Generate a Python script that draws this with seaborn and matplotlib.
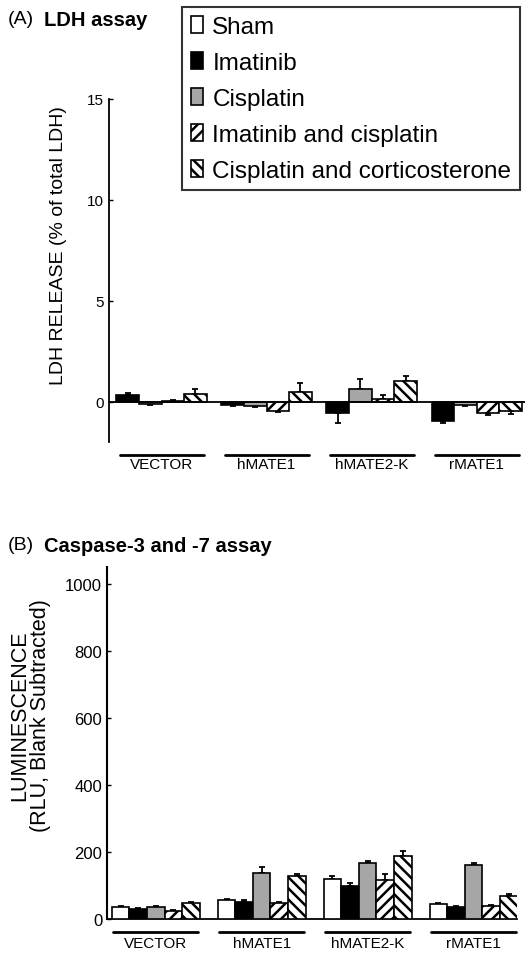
import numpy as np
import pandas as pd
import matplotlib
matplotlib.use("Agg")
import matplotlib.pyplot as plt
import seaborn as sns
from matplotlib.patches import Patch
from matplotlib.transforms import blended_transform_factory

# ---------------- data ----------------
groups = ["VECTOR", "hMATE1", "hMATE2-K", "rMATE1"]
treatments = ["Sham", "Imatinib", "Cisplatin",
              "Imatinib and cisplatin", "Cisplatin and corticosterone"]

# (A) LDH release (% of total LDH), relative to sham
ldh_imatinib = [0.35, -0.18, -0.58, -0.95]
ldh_imatinib_err = [0.08, 0.05, 0.50, 0.12]
ldh_cisplatin = [-0.12, -0.20, 0.65, -0.15]
ldh_cisplatin_err = [0.06, 0.08, 0.45, 0.05]
ldh_imat_cis = [0.03, -0.45, 0.15, -0.55]
ldh_imat_cis_err = [0.07, 0.08, 0.20, 0.10]
ldh_cis_cort = [0.38, 0.47, 1.00, -0.45]
ldh_cis_cort_err = [0.25, 0.45, 0.25, 0.15]

# (B) Caspase-3/-7 luminescence (RLU, blank subtracted)
casp_sham = [35, 57, 120, 45]
casp_sham_err = [3, 4, 7, 3]
casp_imatinib = [30, 52, 98, 35]
casp_imatinib_err = [3, 4, 8, 3]
casp_cisplatin = [35, 137, 168, 162]
casp_cisplatin_err = [3, 18, 5, 4]
casp_imat_cis = [25, 47, 117, 38]
casp_imat_cis_err = [3, 5, 18, 4]
casp_cis_cort = [48, 127, 187, 70]
casp_cis_cort_err = [4, 6, 17, 5]

colors = {"Sham": "white", "Imatinib": "black", "Cisplatin": "#a6a6a6",
          "Imatinib and cisplatin": "white",
          "Cisplatin and corticosterone": "white"}
hatches = {"Sham": "", "Imatinib": "", "Cisplatin": "",
           "Imatinib and cisplatin": "///",
           "Cisplatin and corticosterone": "\\\\\\"}

ldh_vals = {"Imatinib": (ldh_imatinib, ldh_imatinib_err),
            "Cisplatin": (ldh_cisplatin, ldh_cisplatin_err),
            "Imatinib and cisplatin": (ldh_imat_cis, ldh_imat_cis_err),
            "Cisplatin and corticosterone": (ldh_cis_cort, ldh_cis_cort_err)}
casp_vals = {"Sham": (casp_sham, casp_sham_err),
             "Imatinib": (casp_imatinib, casp_imatinib_err),
             "Cisplatin": (casp_cisplatin, casp_cisplatin_err),
             "Imatinib and cisplatin": (casp_imat_cis, casp_imat_cis_err),
             "Cisplatin and corticosterone": (casp_cis_cort, casp_cis_cort_err)}


def long_df(d):
    rows = []
    for t, (v, e) in d.items():
        for g, vi, ei in zip(groups, v, e):
            rows.append({"group": g, "treatment": t, "value": vi, "err": ei})
    return pd.DataFrame(rows)


df_a = long_df(ldh_vals)
df_b = long_df(casp_vals)

# ---------------- style ----------------
sns.set_style("ticks")
plt.rcParams["font.family"] = ["Liberation Sans", "DejaVu Sans"]
plt.rcParams["hatch.linewidth"] = 1.8
plt.rcParams["hatch.color"] = "black"
for k in ["text.color", "axes.labelcolor", "xtick.color", "ytick.color",
          "axes.edgecolor"]:
    plt.rcParams[k] = "black"

fig = plt.figure(figsize=(5.32, 9.54), dpi=100)
W, H = 532.0, 954.0
axA = fig.add_axes([109 / W, 1 - 443 / H, (525 - 109) / W, (443 - 100) / H])
axB = fig.add_axes([107 / W, 1 - 920 / H, (517 - 107) / W, (920 - 568) / H])


def draw(ax, df, order, width):
    sns.barplot(data=df, x="group", y="value", hue="treatment",
                order=groups, hue_order=order,
                palette={t: colors[t] for t in order},
                edgecolor="black", linewidth=1.2, width=width,
                errorbar=None, dodge=True, legend=False, ax=ax, zorder=3)
    for t, cont in zip(order, ax.containers):
        sub = df[df.treatment == t].set_index("group").loc[groups]
        xs, ys, lo, hi = [], [], [], []
        for patch, v, e in zip(cont.patches, sub["value"], sub["err"]):
            patch.set_hatch(hatches[t])
            xs.append(patch.get_x() + patch.get_width() / 2)
            ys.append(v)
            lo.append(e if v < 0 else 0)
            hi.append(e if v >= 0 else 0)
        ax.errorbar(xs, ys, yerr=[lo, hi], fmt="none", ecolor="black",
                    elinewidth=1.3, capsize=2, capthick=1.3, zorder=2)


# ---- panel A ----
draw(axA, df_a, treatments[1:], 0.86)
axA.set_xlim(-0.5, 3.46)
axA.set_ylim(-2, 15)
axA.axhline(0, color="black", lw=1.3, zorder=4)
axA.set_yticks([0, 5, 10, 15])
axA.tick_params(axis="y", direction="in", length=3, labelsize=11, width=1)
axA.set_xticks(range(len(groups)))
axA.set_xticklabels(groups, fontsize=11)
axA.tick_params(axis="x", length=0, pad=11)
for s in ["top", "right", "bottom"]:
    axA.spines[s].set_visible(False)
axA.spines["left"].set_linewidth(1.3)
axA.set_xlabel("")
axA.set_ylabel("LDH RELEASE (% of total LDH)", fontsize=14)
axA.yaxis.set_label_coords(-0.10, 0.577)

# ---- panel B ----
draw(axB, df_b, treatments, 0.83)
axB.set_xlim(-0.46, 3.41)
axB.set_ylim(0, 1050)
axB.set_yticks(range(0, 1001, 200))
axB.tick_params(axis="y", direction="in", length=3, labelsize=12, width=1)
axB.set_xticks(range(len(groups)))
axB.set_xticklabels(groups, fontsize=11)
axB.tick_params(axis="x", length=0, pad=12)
for s in ["top", "right"]:
    axB.spines[s].set_visible(False)
axB.spines["left"].set_linewidth(1.5)
axB.spines["bottom"].set_linewidth(1.3)
axB.set_xlabel("")
axB.set_ylabel("LUMINESCENCE\n(RLU, Blank Subtracted)", fontsize=15.5,
               linespacing=0.95)
axB.yaxis.set_label_coords(-0.137, 0.58)

# group underlines
for ax, yline in [(axA, -0.037), (axB, -0.036)]:
    tr = blended_transform_factory(ax.transData, ax.transAxes)
    for i in range(len(groups)):
        ax.plot([i - 0.4, i + 0.4], [yline, yline], color="black", lw=2,
                transform=tr, clip_on=False)

# titles
fig.text(8 / W, 1 - 20 / H, "(A)", fontsize=14, va="center", ha="left")
fig.text(44 / W, 1 - 20 / H, "LDH assay", fontsize=14.5, fontweight="bold",
         va="center", ha="left")
fig.text(8 / W, 1 - 546 / H, "(B)", fontsize=14, va="center", ha="left")
fig.text(44 / W, 1 - 546 / H, "Caspase-3 and -7 assay", fontsize=14.5,
         fontweight="bold", va="center", ha="left")

# legend
handles = [Patch(facecolor=colors[t], edgecolor="black", hatch=hatches[t],
                 linewidth=1.2) for t in treatments]
leg = fig.legend(handles, treatments, loc="upper left",
                 bbox_to_anchor=(182 / W, 1 - 8 / H), fontsize=17.5,
                 frameon=True, fancybox=False, edgecolor="black",
                 handlelength=0.5, handleheight=0.7, handletextpad=0.4,
                 labelspacing=0.58, borderpad=0.35, borderaxespad=0)
leg.get_frame().set_linewidth(1.5)

fig.savefig("out.png", dpi=100)
